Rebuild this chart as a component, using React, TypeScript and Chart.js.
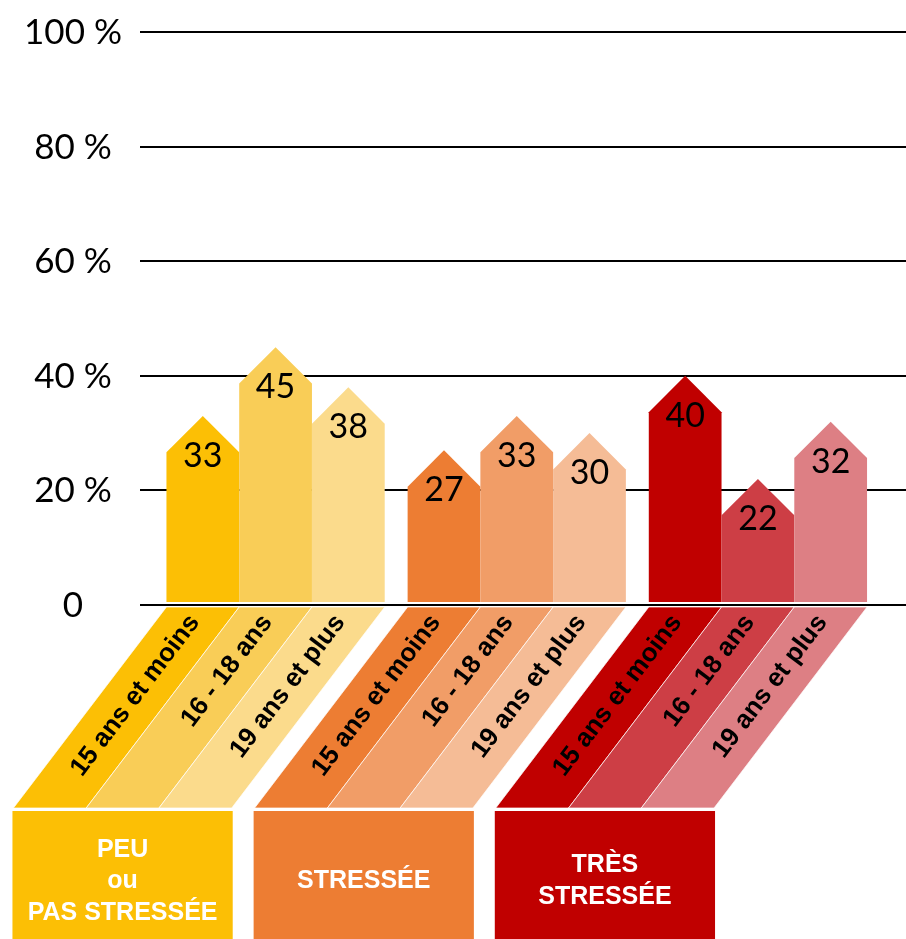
import React, { useEffect, useRef } from 'react';
import { Chart, registerables } from 'chart.js';

Chart.register(...registerables);

// ---- data ----
const groups = ['PEU ou PAS STRESSÉE', 'STRESSÉE', 'TRÈS STRESSÉE'];
const groupLines = [['PEU', 'ou', 'PAS STRESSÉE'], ['STRESSÉE'], ['TRÈS', 'STRESSÉE']];
const ageLabels = ['15 ans et moins', '16 - 18 ans', '19 ans et plus'];
const age15 = [33, 27, 40];
const age16 = [45, 33, 22];
const age19 = [38, 30, 32];
const yTicks = [0, 20, 40, 60, 80, 100];

// ---- styles ----
// palette[group][ageClass]
const palette = [
  ['#FCBF05', '#F9CD57', '#FBDB8C'],
  ['#ED7D33', '#F19D67', '#F5BC96'],
  ['#C00000', '#CD3E45', '#DD7F84'],
];
const boxColors = ['#FCBF05', '#ED7D33', '#C00000'];

const GRID_LEFT = 140;
const TICK_X = 73;
const BAND_BOTTOM = 808;
const BAND_SHIFT = 153;
const BOX_TOP = 811;
const SANS_BOLD = 'bold 25px Arial, "Liberation Sans", sans-serif';

const infographic = {
  id: 'infographic',
  beforeDatasetsDraw(chart: any) {
    const ctx = chart.ctx;
    const ys = chart.scales.y;
    ctx.save();
    ctx.strokeStyle = '#000';
    ctx.lineWidth = 2;
    ctx.fillStyle = '#000';
    ctx.font = '35px Lato, "Open Sans", sans-serif';
    ctx.textAlign = 'center';
    ctx.textBaseline = 'alphabetic';
    yTicks.forEach((v) => {
      const py = Math.round(ys.getPixelForValue(v));
      ctx.beginPath();
      ctx.moveTo(GRID_LEFT, py);
      ctx.lineTo(chart.width, py);
      ctx.stroke();
      ctx.fillText(v === 0 ? '0' : `${v} %`, TICK_X, py + 12);
    });
    ctx.restore();
  },
  afterDatasetsDraw(chart: any) {
    const ctx = chart.ctx;
    const ys = chart.scales.y;
    const zero = Math.round(ys.getPixelForValue(0));
    const bandTop = zero + 2;
    const angle = Math.atan2(BAND_BOTTOM - bandTop, BAND_SHIFT);
    const slope = BAND_SHIFT / (BAND_BOTTOM - bandTop);
    ctx.save();

    chart.data.datasets.forEach((ds: any, di: number) => {
      const meta = chart.getDatasetMeta(di);
      meta.data.forEach((el: any, gi: number) => {
        const p = el.getProps(['x', 'y', 'width'], true);
        const half = p.width / 2;
        const base = zero - 3;
        const color = palette[gi][di];
        // house-shaped bar
        ctx.fillStyle = color;
        ctx.beginPath();
        ctx.moveTo(p.x - half, base);
        ctx.lineTo(p.x - half, p.y + half);
        ctx.lineTo(p.x, p.y);
        ctx.lineTo(p.x + half, p.y + half);
        ctx.lineTo(p.x + half, base);
        ctx.closePath();
        ctx.fill();
        // value label
        ctx.fillStyle = '#000';
        ctx.font = '34px Lato, "Open Sans", sans-serif';
        ctx.textAlign = 'center';
        ctx.textBaseline = 'alphabetic';
        ctx.fillText(String(ds.data[gi]), p.x, p.y + 51);
        // slanted band below axis
        ctx.fillStyle = color;
        ctx.beginPath();
        ctx.moveTo(p.x - half, bandTop);
        ctx.lineTo(p.x + half, bandTop);
        ctx.lineTo(p.x + half - BAND_SHIFT, BAND_BOTTOM);
        ctx.lineTo(p.x - half - BAND_SHIFT, BAND_BOTTOM);
        ctx.closePath();
        ctx.fill();
        ctx.strokeStyle = 'rgba(255,255,255,0.7)';
        ctx.lineWidth = 1;
        ctx.stroke();
      });
    });

    // rotated age labels
    chart.data.datasets.forEach((ds: any, di: number) => {
      const meta = chart.getDatasetMeta(di);
      meta.data.forEach((el: any) => {
        const p = el.getProps(['x'], true);
        const dy = 11;
        const ax = p.x - dy * slope;
        const ay = bandTop + dy;
        ctx.save();
        ctx.translate(ax, ay);
        ctx.rotate(-angle);
        ctx.fillStyle = '#000';
        ctx.font = 'bold 26px Arial, "Liberation Sans", sans-serif';
        ctx.textAlign = 'right';
        ctx.textBaseline = 'middle';
        ctx.fillText(ds.label, 0, 0);
        ctx.restore();
      });
    });

    // group boxes
    const m0 = chart.getDatasetMeta(0);
    const m2 = chart.getDatasetMeta(chart.data.datasets.length - 1);
    groups.forEach((g, gi) => {
      const a = m0.data[gi].getProps(['x', 'width'], true);
      const b = m2.data[gi].getProps(['x', 'width'], true);
      const left = a.x - a.width / 2 - BAND_SHIFT - 1;
      const right = b.x + b.width / 2 - BAND_SHIFT + 1;
      ctx.fillStyle = boxColors[gi];
      ctx.fillRect(left, BOX_TOP, right - left, chart.height - BOX_TOP);
      const lines = groupLines[gi];
      const pitch = 31.5;
      const mid = BOX_TOP + 77;
      const start = mid - ((lines.length - 1) * pitch) / 2;
      ctx.fillStyle = '#fff';
      ctx.font = SANS_BOLD;
      ctx.textAlign = 'center';
      ctx.textBaseline = 'alphabetic';
      lines.forEach((ln, li) => {
        ctx.fillText(ln, (left + right) / 2, start + li * pitch);
      });
    });

    ctx.restore();
  },
};

export default function App() {
  const ref = useRef<HTMLCanvasElement | null>(null);
  useEffect(() => {
    document.body.style.margin = '0';
    const canvas = ref.current;
    if (!canvas) return;
    const common = { backgroundColor: 'rgba(0,0,0,0)', borderWidth: 0, categoryPercentage: 0.905, barPercentage: 1 };
    const chart = new Chart(canvas, {
      type: 'bar',
      data: {
        labels: groups,
        datasets: [
          { label: ageLabels[0], data: age15, ...common },
          { label: ageLabels[1], data: age16, ...common },
          { label: ageLabels[2], data: age19, ...common },
        ],
      },
      options: {
        animation: false,
        responsive: false,
        devicePixelRatio: 1,
        events: [],
        layout: { padding: { left: 155, right: 27.5, top: 32, bottom: 334 } },
        plugins: { legend: { display: false }, tooltip: { enabled: false } },
        scales: {
          x: { display: false },
          y: { display: false, min: 0, max: 100, ticks: { stepSize: 20 } },
        },
      },
      plugins: [infographic],
    } as any);
    return () => chart.destroy();
  }, []);
  return <canvas ref={ref} width={906} height={939} style={{ display: 'block', width: 906, height: 939 }} />;
}
